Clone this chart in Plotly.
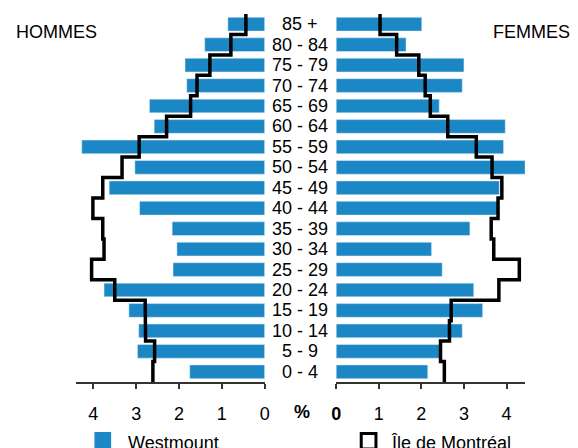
import plotly.graph_objects as go

age_groups = ["0 - 4", "5 - 9", "10 - 14", "15 - 19", "20 - 24", "25 - 29", "30 - 34",
              "35 - 39", "40 - 44", "45 - 49", "50 - 54", "55 - 59", "60 - 64", "65 - 69",
              "70 - 74", "75 - 79", "80 - 84", "85 +"]

westmount_hommes = [1.75, 2.97, 2.94, 3.17, 3.75, 2.14, 2.05, 2.16, 2.92, 3.63, 3.03, 4.27,
                    2.58, 2.69, 1.82, 1.86, 1.40, 0.86]
montreal_hommes = [2.61, 2.57, 2.78, 2.79, 3.50, 4.04, 3.75, 3.78, 4.01, 3.78, 3.33, 2.93,
                   2.29, 1.73, 1.58, 1.28, 0.79, 0.44]
westmount_femmes = [2.15, 2.45, 2.96, 3.44, 3.23, 2.49, 2.24, 3.14, 3.83, 3.83, 4.46, 3.93,
                    3.97, 2.42, 2.96, 3.00, 1.64, 2.01]
montreal_femmes = [2.54, 2.45, 2.66, 2.70, 3.82, 4.30, 3.70, 3.64, 3.80, 3.89, 3.66, 3.29,
                   2.62, 2.21, 2.09, 1.94, 1.42, 1.03]

tick_vals = [0, 1, 2, 3, 4]
tick_left = ["0", "1", "2", "3", "4"]
tick_right = ["<b>0</b>", "1", "2", "3", "4"]

BLUE = "#1B87C5"
W, H = 578, 448
TOP, AXIS_Y = 14, 382
FONT = "Liberation Sans, Arial, sans-serif"


def xp(px):
    return px / W


def yp(py):
    return (AXIS_Y - py) / (AXIS_Y - TOP)


pos = list(range(len(age_groups)))


def step(values):
    xs, ys = [], []
    for i, v in enumerate(values):
        xs += [v, v]
        ys += [i - 0.5, i + 0.5]
    return xs, ys


fig = go.Figure()
fig.add_trace(go.Bar(x=westmount_hommes, y=pos, orientation="h", marker_color=BLUE,
                     width=0.67, xaxis="x", yaxis="y", showlegend=False))
fig.add_trace(go.Bar(x=westmount_femmes, y=pos, orientation="h", marker_color=BLUE,
                     width=0.67, xaxis="x2", yaxis="y", showlegend=False))
sx, sy = step(montreal_hommes)
fig.add_trace(go.Scatter(x=sx, y=sy, mode="lines", line=dict(color="black", width=3.5),
                         xaxis="x", yaxis="y", showlegend=False))
sx, sy = step(montreal_femmes)
fig.add_trace(go.Scatter(x=sx, y=sy, mode="lines", line=dict(color="black", width=3.5),
                         xaxis="x2", yaxis="y", showlegend=False))

axis_common = dict(showgrid=False, zeroline=False, showline=True, linecolor="#333",
                   linewidth=1.5, ticks="outside", ticklen=5, tickwidth=1.5, tickcolor="#333",
                   tickvals=tick_vals, tickfont=dict(family=FONT, size=18, color="black"),
                   ticklabelstandoff=10, anchor="y", fixedrange=True)

annotations = []
for i, g in enumerate(age_groups):
    annotations.append(dict(x=xp(300), y=i, xref="paper", yref="y", text=g, showarrow=False,
                            xanchor="center", yanchor="middle",
                            font=dict(family=FONT, size=18, color="black")))
annotations += [
    dict(x=xp(9), y=yp(32), xref="paper", yref="paper", text="HOMMES", showarrow=False,
         xanchor="left", yanchor="middle", font=dict(family=FONT, size=18, color="black")),
    dict(x=xp(577), y=yp(32), xref="paper", yref="paper", text="FEMMES", showarrow=False,
         xanchor="right", yanchor="middle", font=dict(family=FONT, size=18, color="black")),
    dict(x=xp(302), y=yp(412), xref="paper", yref="paper", text="<b>%</b>", showarrow=False,
         xanchor="center", yanchor="middle", font=dict(family=FONT, size=18, color="black")),
    dict(x=xp(123), y=yp(443), xref="paper", yref="paper", text="Westmount", showarrow=False,
         xanchor="left", yanchor="middle", font=dict(family=FONT, size=18, color="black")),
    dict(x=xp(391), y=yp(443), xref="paper", yref="paper", text="Île de Montréal",
         showarrow=False, xanchor="left", yanchor="middle",
         font=dict(family=FONT, size=18, color="black")),
]

shapes = [
    dict(type="rect", xref="paper", yref="paper", x0=xp(91), x1=xp(108), y0=yp(432),
         y1=yp(449), fillcolor=BLUE, line=dict(width=0)),
    dict(type="rect", xref="paper", yref="paper", x0=xp(362.5), x1=xp(377.5), y0=yp(433.5),
         y1=yp(449), fillcolor="white", line=dict(color="black", width=3)),
]

fig.update_layout(
    width=W, height=H, margin=dict(l=0, r=0, t=TOP, b=H - AXIS_Y),
    paper_bgcolor="white", plot_bgcolor="white", showlegend=False, bargap=0.33,
    xaxis=dict(domain=[xp(72), xp(264.3)], range=[4.41, 0], ticktext=tick_left, **axis_common),
    xaxis2=dict(domain=[xp(337), xp(529)], range=[0, 4.43], ticktext=tick_right, **axis_common),
    yaxis=dict(range=[-0.5, 17.5], visible=False, fixedrange=True),
    annotations=annotations, shapes=shapes,
)

fig.write_html("out.html", config={"displayModeBar": False},
               post_script="document.body.style.margin='0';document.body.style.overflow='hidden';")
